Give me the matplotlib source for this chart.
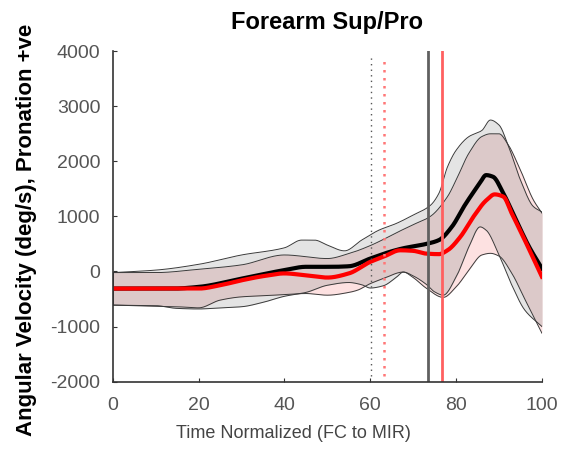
import numpy as np
import matplotlib
matplotlib.use('Agg')
import matplotlib.pyplot as plt

plt.rcParams['font.family'] = ['Liberation Sans', 'DejaVu Sans']
plt.rcParams['axes.unicode_minus'] = False

# mean curves (time %, deg/s)
x_black = [0, 10, 14, 20, 30, 40, 45, 51, 55, 60, 64.5, 67.6, 73, 76, 79, 82, 85.5, 87, 88.6, 91, 94, 97, 100]
y_black = [-310, -310, -310, -280, -130, 25, 85, 85, 95, 235, 355, 420, 500, 570, 810, 1200, 1600, 1750, 1720, 1420, 930, 450, 55]

x_red = [0, 10, 14, 20, 25, 30, 35, 40, 45, 50, 55, 60, 63, 67, 70, 73, 76, 78, 81, 84, 87, 89, 91, 93, 96, 100]
y_red = [-310, -310, -310, -310, -250, -160, -85, -35, -70, -110, -35, 175, 265, 385, 375, 325, 315, 385, 630, 990, 1290, 1400, 1360, 1050, 570, -95]

# black group band (mean +/- SD)
x_bu = [0, 10, 20, 30, 40, 44, 47, 50, 54, 58, 62, 66, 70, 74, 76, 78, 80, 83, 86, 88, 90, 92, 95, 98, 100]
y_bu = [-20, 25, 130, 300, 430, 570, 570, 480, 375, 570, 750, 870, 1025, 1200, 1420, 1900, 2200, 2450, 2560, 2750, 2660, 2320, 1660, 1180, 1080]
x_bl = [0, 10, 15, 20, 25, 30, 35, 40, 45, 50, 55, 58, 60, 63, 66, 67.7, 70, 73, 75, 77, 80, 83, 85.6, 87, 90, 93, 96, 100]
y_bl = [-610, -620, -670, -680, -660, -640, -560, -450, -380, -250, -200, -240, -300, -260, -110, -10, -80, -230, -370, -430, -100, 450, 810, 750, 300, -250, -700, -1000]

# red group band (mean +/- SD)
x_ru = [0, 10, 20, 30, 40, 50, 55, 60, 63, 66, 70, 74, 78, 80, 83, 86, 88, 90, 92, 95, 98, 100]
y_ru = [-20, -20, 40, 120, 300, 235, 325, 470, 580, 700, 850, 1000, 1360, 1660, 2150, 2450, 2500, 2500, 2320, 1840, 1300, 1060]
x_rl = [0, 15, 20, 25, 30, 35, 40, 45, 50, 55, 57, 60, 63, 67.7, 70, 73, 77, 80, 83, 86, 88, 90, 93, 96, 100]
y_rl = [-610, -640, -660, -520, -460, -440, -420, -400, -430, -380, -340, -220, -130, -10, -110, -300, -470, -280, 25, 300, 330, 280, -35, -500, -1120]

# event lines
ev_black_dot, ev_red_dot = 60.1, 63.2
ev_black, ev_red = 73.5, 76.6

t = np.linspace(0, 100, 1001)

def curve(xs, ys):
    # monotone cubic (pchip) through the read-off points
    x = np.asarray(xs, float)
    y = np.asarray(ys, float)
    h = np.diff(x)
    d = np.diff(y) / h
    m = np.zeros_like(y)
    for k in range(1, len(x) - 1):
        if d[k - 1] * d[k] > 0:
            w1 = 2 * h[k] + h[k - 1]
            w2 = h[k] + 2 * h[k - 1]
            m[k] = (w1 + w2) / (w1 / d[k - 1] + w2 / d[k])
    m[0], m[-1] = d[0], d[-1]
    i = np.clip(np.searchsorted(x, t) - 1, 0, len(x) - 2)
    s = (t - x[i]) / h[i]
    h00 = 2 * s**3 - 3 * s**2 + 1
    h10 = s**3 - 2 * s**2 + s
    h01 = -2 * s**3 + 3 * s**2
    h11 = s**3 - s**2
    return h00 * y[i] + h10 * h[i] * m[i] + h01 * y[i + 1] + h11 * h[i] * m[i + 1]

fig = plt.figure(figsize=(5.61, 4.49), dpi=100)
ax = fig.add_axes([0.201, 0.150, 0.765, 0.736])

bu, bl = curve(x_bu, y_bu), curve(x_bl, y_bl)
ru, rl = curve(x_ru, y_ru), curve(x_rl, y_rl)
lo, hi = np.maximum(bl, rl), np.minimum(bu, ru)

ax.fill_between(t, bl, bu, color='#e4e4e4', lw=0)
ax.fill_between(t, rl, ru, color='#fde1e1', lw=0)
ax.fill_between(t, lo, hi, where=hi > lo, color='#dcc9c9', lw=0, interpolate=True)
for yy in (bu, bl, ru, rl):
    ax.plot(t, yy, color='#3a3a3a', lw=0.7)
ax.plot([100, 100], [rl[-1], ru[-1]], color='#3a3a3a', lw=0.7)
ax.plot([0, 0], [bl[0], bu[0]], color='#3a3a3a', lw=0.7)

ax.plot(t, curve(x_black, y_black), color='black', lw=3)
ax.plot(t, curve(x_red, y_red), color='red', lw=3)

ax.plot([ev_black_dot] * 2, [-1900, 3920], color='#555555', lw=1, ls=(0, (1, 3)))
ax.plot([ev_red_dot] * 2, [-1900, 3920], color='#ff7777', lw=1.8, ls=(0, (1, 2.2)))
ax.axvline(ev_black, color='#606060', lw=2)
ax.axvline(ev_red, color='#ff6060', lw=2)

ax.set_xlim(0, 100)
ax.set_ylim(-2000, 4000)
ax.set_xticks([0, 20, 40, 60, 80, 100])
ax.set_yticks([-2000, -1000, 0, 1000, 2000, 3000, 4000])
ax.spines['top'].set_visible(False)
ax.spines['right'].set_visible(False)
for s in ('left', 'bottom'):
    ax.spines[s].set_color('#333333')
    ax.spines[s].set_linewidth(1.2)
ax.tick_params(direction='in', length=3, color='#333333', labelsize=14, labelcolor='#555555')
ax.tick_params(axis='x', pad=11)
ax.tick_params(axis='y', pad=9)

ax.set_xlabel('Time Normalized (FC to MIR)', fontsize=13, color='#444444')
ax.xaxis.set_label_coords(0.422, -0.131)
ax.set_ylabel('Angular Velocity (deg/s), Pronation +ve', fontsize=16, fontweight='bold')
ax.yaxis.set_label_coords(-0.176, 0.459)
ax.set_title('Forearm Sup/Pro', fontsize=17, fontweight='bold', pad=16)

fig.savefig('out.png', dpi=100)
